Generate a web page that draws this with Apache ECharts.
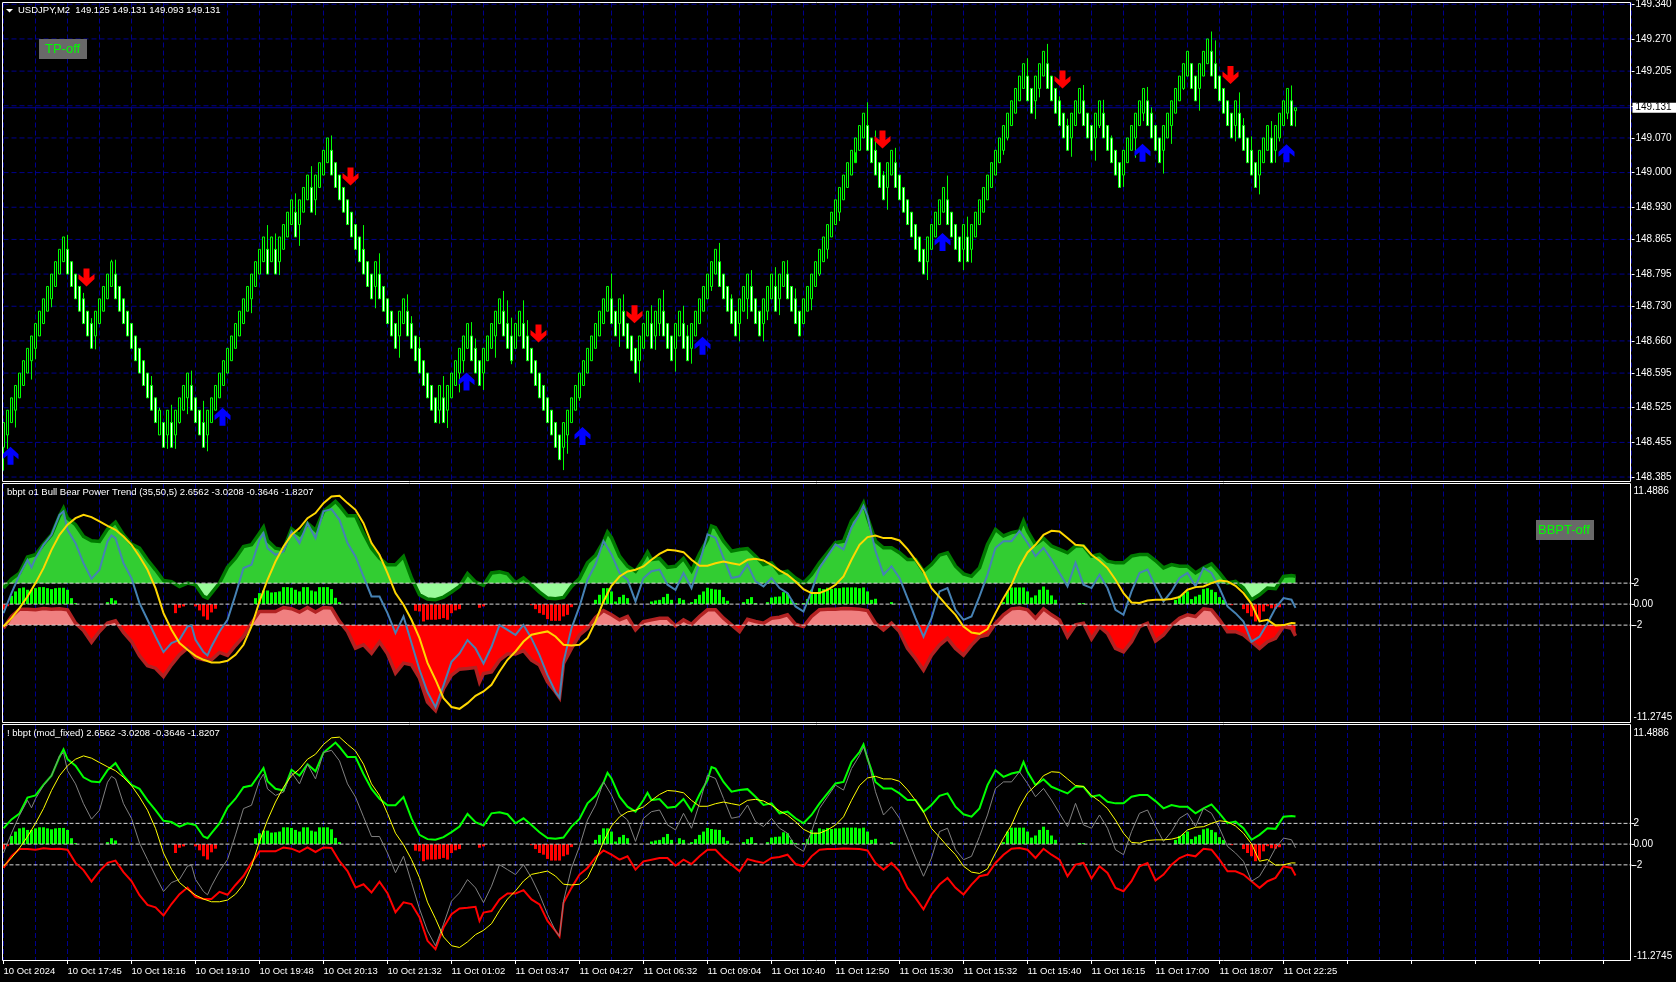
<!DOCTYPE html>
<html><head><meta charset="utf-8"><style>html,body{margin:0;padding:0;background:#000}#c{width:1676px;height:982px}</style>
<script src="https://cdn.jsdelivr.net/npm/echarts@6/dist/echarts.min.js"></script></head><body><div id="c"></div>
<script>
const timeLabels=['10 Oct 2024','10 Oct 17:45','10 Oct 18:16','10 Oct 19:10','10 Oct 19:48','10 Oct 20:13','10 Oct 21:32','11 Oct 01:02','11 Oct 03:47','11 Oct 04:27','11 Oct 06:32','11 Oct 09:04','11 Oct 10:40','11 Oct 12:50','11 Oct 15:30','11 Oct 15:32','11 Oct 15:40','11 Oct 16:15','11 Oct 17:00','11 Oct 18:07','11 Oct 22:25'];
const priceTicks=[149.34,149.27,149.205,149.135,149.07,149,148.93,148.865,148.795,148.73,148.66,148.595,148.525,148.455,148.385];
const lastPrice=149.131;
const opens=[
148.445,148.47,148.495,148.52,148.545,148.57,148.595,148.62,148.645,148.67,148.695,148.72,148.745,148.77,148.795,148.82,
148.845,148.82,148.795,148.77,148.745,148.72,148.695,148.67,148.695,148.72,148.745,148.77,148.795,148.77,148.745,148.72,
148.695,148.67,148.645,148.62,148.595,148.57,148.545,148.47,148.495,148.47,148.495,148.47,148.495,148.52,148.545,148.57,
148.545,148.52,148.495,148.47,148.495,148.52,148.545,148.57,148.595,148.62,148.645,148.67,148.695,148.72,148.745,148.77,
148.795,148.82,148.845,148.82,148.845,148.82,148.845,148.87,148.895,148.92,148.895,148.92,148.945,148.97,148.945,148.97,
148.995,149.02,149.045,149.02,148.995,148.97,148.945,148.92,148.895,148.87,148.845,148.82,148.795,148.77,148.795,148.77,
148.745,148.72,148.695,148.67,148.695,148.72,148.695,148.67,148.645,148.62,148.595,148.57,148.545,148.52,148.545,148.52,
148.545,148.57,148.595,148.62,148.645,148.67,148.645,148.62,148.595,148.62,148.645,148.67,148.695,148.72,148.695,148.67,
148.645,148.67,148.695,148.67,148.645,148.62,148.595,148.57,148.545,148.52,148.495,148.47,148.445,148.47,148.495,148.52,
148.545,148.57,148.595,148.62,148.645,148.67,148.695,148.72,148.745,148.72,148.695,148.72,148.695,148.67,148.645,148.62,
148.645,148.67,148.695,148.67,148.695,148.72,148.695,148.67,148.645,148.67,148.695,148.67,148.645,148.67,148.695,148.72,
148.745,148.77,148.795,148.82,148.795,148.77,148.745,148.72,148.695,148.72,148.745,148.77,148.745,148.72,148.695,148.72,
148.745,148.77,148.745,148.77,148.795,148.77,148.745,148.72,148.695,148.72,148.745,148.77,148.795,148.82,148.845,148.87,
148.895,148.92,148.945,148.97,148.995,149.02,149.045,149.07,149.095,149.07,149.045,149.02,148.995,148.97,148.995,149.02,
148.995,148.97,148.945,148.92,148.895,148.87,148.845,148.82,148.845,148.87,148.895,148.92,148.945,148.92,148.895,148.87,
148.845,148.87,148.845,148.87,148.895,148.92,148.945,148.97,148.995,149.02,149.045,149.07,149.095,149.12,149.145,149.17,
149.195,149.17,149.145,149.17,149.195,149.22,149.195,149.17,149.145,149.12,149.095,149.07,149.095,149.12,149.145,149.12,
149.095,149.07,149.095,149.12,149.095,149.07,149.045,149.02,148.995,149.02,149.045,149.07,149.095,149.12,149.145,149.12,
149.095,149.07,149.045,149.07,149.095,149.12,149.145,149.17,149.195,149.22,149.195,149.17,149.195,149.22,149.245,149.22,
149.195,149.17,149.145,149.12,149.095,149.12,149.095,149.07,149.045,149.02,148.995,149.02,149.045,149.07,149.045,149.07,
149.095,149.12,149.145,149.125];
const closes=[
148.495,148.52,148.545,148.57,148.595,148.62,148.645,148.67,148.695,148.72,148.745,148.77,148.795,148.82,148.845,148.87,
148.795,148.77,148.745,148.72,148.695,148.67,148.645,148.72,148.745,148.77,148.795,148.82,148.745,148.72,148.695,148.67,
148.645,148.62,148.595,148.57,148.545,148.52,148.495,148.52,148.445,148.52,148.445,148.52,148.545,148.57,148.595,148.52,
148.495,148.47,148.445,148.52,148.545,148.57,148.595,148.62,148.645,148.67,148.695,148.72,148.745,148.77,148.795,148.82,
148.845,148.87,148.795,148.87,148.795,148.87,148.895,148.92,148.945,148.87,148.945,148.97,148.995,148.92,148.995,149.02,
149.045,149.07,148.995,148.97,148.945,148.92,148.895,148.87,148.845,148.82,148.795,148.77,148.745,148.82,148.745,148.72,
148.695,148.67,148.645,148.72,148.745,148.67,148.645,148.62,148.595,148.57,148.545,148.52,148.495,148.57,148.495,148.57,
148.595,148.62,148.645,148.67,148.695,148.62,148.595,148.57,148.645,148.67,148.695,148.72,148.745,148.67,148.645,148.62,
148.695,148.72,148.645,148.62,148.595,148.57,148.545,148.52,148.495,148.47,148.445,148.42,148.495,148.52,148.545,148.57,
148.595,148.62,148.645,148.67,148.695,148.72,148.745,148.77,148.695,148.67,148.745,148.67,148.645,148.62,148.595,148.67,
148.695,148.72,148.645,148.72,148.745,148.67,148.645,148.62,148.695,148.72,148.645,148.62,148.695,148.72,148.745,148.77,
148.795,148.82,148.845,148.77,148.745,148.72,148.695,148.67,148.745,148.77,148.795,148.72,148.695,148.67,148.745,148.77,
148.795,148.72,148.795,148.82,148.745,148.72,148.695,148.67,148.745,148.77,148.795,148.82,148.845,148.87,148.895,148.92,
148.945,148.97,148.995,149.02,149.045,149.07,149.095,149.12,149.045,149.02,148.995,148.97,148.945,149.02,149.045,148.97,
148.945,148.92,148.895,148.87,148.845,148.82,148.795,148.87,148.895,148.92,148.945,148.97,148.895,148.87,148.845,148.82,
148.895,148.82,148.895,148.92,148.945,148.97,148.995,149.02,149.045,149.07,149.095,149.12,149.145,149.17,149.195,149.22,
149.145,149.12,149.195,149.22,149.245,149.17,149.145,149.12,149.095,149.07,149.045,149.12,149.145,149.17,149.095,149.07,
149.045,149.12,149.145,149.07,149.045,149.02,148.995,148.97,149.045,149.07,149.095,149.12,149.145,149.17,149.095,149.07,
149.045,149.02,149.095,149.12,149.145,149.17,149.195,149.22,149.245,149.17,149.145,149.22,149.245,149.27,149.195,149.17,
149.145,149.12,149.095,149.07,149.145,149.07,149.045,149.02,148.995,148.97,149.045,149.07,149.095,149.02,149.095,149.12,
149.145,149.17,149.095,149.131];
const upperWicks=[[16,148.874],[20,148.757],[22,148.706],[27,148.824],[28,148.824],[37,148.589],[39,148.525],[42,148.531],[47,148.6],[50,148.539],[66,148.894],[68,148.877],[73,148.958],[77,149.013],[82,149.075],[90,148.894],[94,148.837],[101,148.754],[102,148.71],[104,148.668],[110,148.589],[117,148.698],[118,148.665],[125,148.761],[126,148.742],[127,148.707],[130,148.742],[131,148.702],[152,148.796],[155,148.754],[162,148.732],[165,148.763],[170,148.731],[171,148.692],[179,148.858],[182,148.754],[187,148.803],[193,148.809],[196,148.823],[198,148.766],[216,149.142],[218,149.085],[220,149.003],[223,149.05],[236,148.994],[241,148.911],[256,149.231],[261,149.26],[264,149.154],[266,149.109],[270,149.177],[275,149.147],[277,149.075],[286,149.173],[287,149.132],[302,149.285],[303,149.267],[309,149.162],[310,149.11],[312,149.073],[317,149.104],[322,149.176]];
const lowerWicks=[[0,148.398],[1,148.442],[3,148.485],[7,148.582],[8,148.623],[12,148.728],[23,148.643],[41,148.442],[43,148.442],[44,148.493],[46,148.512],[51,148.437],[62,148.716],[69,148.793],[74,148.852],[78,148.914],[93,148.726],[99,148.626],[109,148.493],[111,148.484],[114,148.556],[115,148.596],[120,148.561],[123,148.626],[127,148.613],[140,148.399],[141,148.432],[144,148.539],[154,148.648],[159,148.576],[163,148.642],[164,148.67],[168,148.598],[172,148.614],[177,148.761],[184,148.659],[186,148.704],[190,148.659],[191,148.702],[194,148.712],[202,148.722],[204,148.791],[206,148.826],[209,148.902],[213,149.041],[221,148.925],[231,148.783],[240,148.803],[242,148.818],[250,149.036],[251,149.065],[258,149.108],[259,149.152],[267,149.032],[273,149.024],[274,149.09],[280,148.971],[283,149.03],[285,149.104],[290,148.998],[292,149.058],[295,149.167],[299,149.125],[308,149.063],[314,148.956],[318,149.02],[319,149.063],[321,149.108],[323,149.093]];
const buyArrows=[[2,148.428],[55,148.507],[116,148.578],[145,148.468],[175,148.65],[235,148.86],[285,149.04],[321,149.039]];
const sellArrows=[[21,148.788],[87,148.992],[134,148.675],[158,148.714],[220,149.067],[265,149.188],[307,149.197]];
const histogram=[-.5,-.2,.79,1.21,1.52,1.59,1.37,1.37,1.52,1.62,1.62,1.52,1.43,1.52,1.56,1.56,1.37,.57,.1,0,0,0,0,0,0,0,.19,.57,.35,0,0,0,
0,0,0,0,0,0,0,0,0,0,0,-.86,-.35,-.22,0,0,-.22,-.6,-1.17,-1.49,-.79,-.44,0,0,0,0,0,0,0,0,0,.57,
1.05,1.3,1.3,1.11,1.14,1.21,1.62,1.62,1.56,1.37,1.21,1.62,1.62,1.3,1.21,1.62,1.62,1.62,1.43,.6,.19,0,0,0,0,0,0,0,0,0,0,0,
0,0,0,0,0,0,0,-.63,-.7,-1.65,-1.49,-1.49,-1.49,-1.43,-1.33,-1.49,-.86,-.6,-.48,0,0,0,0,-.35,-.22,0,0,0,0,0,0,0,
0,0,0,0,-.1,-.48,-.86,-1.02,-1.43,-1.59,-1.59,-1.59,-1.17,-1.02,-.29,0,0,0,0,0,.41,.89,1.52,1.52,1.21,.25,.67,.89,.57,0,0,0,
0,0,.25,.35,.41,.67,.98,.41,0,.57,.41,.03,.19,.48,.89,1.21,1.56,1.46,1.4,1.37,.67,.32,0,0,0,.19,.48,.67,.1,0,0,.19,
.63,.7,.73,1.14,1.05,.41,.1,0,.1,.48,1.37,1.11,1.52,1.43,1.56,1.46,1.52,1.52,1.59,1.59,1.59,1.59,1.52,1.59,1.21,.41,.51,0,0,0,.19,.03,
0,0,0,0,0,0,0,0,0,0,0,0,0,0,0,0,0,0,0,0,0,0,0,0,0,0,.19,1.21,1.59,1.59,1.59,1.59,
1.21,.63,.83,1.37,1.68,1.37,.83,.41,0,0,0,0,0,.1,.1,0,0,0,0,0,0,0,0,0,0,0,0,0,0,0,0,0,
0,0,0,0,0,.41,.79,.98,1.21,.48,.73,.89,1.43,1.52,1.37,1.14,.67,.41,0,-.1,0,0,-.48,-.86,-1.17,-1.65,-1.49,-.7,-.2,-.4,-.45,-.3,
0,0,0,0];
const bull=[1.52,2.38,2.95,4.48,4.7,5.71,6.6,8.41,8.19,7.56,6.44,6.03,5.97,7.14,7.81,6.6,5.71,5.33,4.22,3.27,2.25,2.13,1.68,2,1.84,.73,1.05,2,3.52,4.38,5.49,5.65,6.76,6.06,5.33,5.17,7.17,6.6,7.71,7.02,8.83,9.46,9.37,8.41,8.41,6.76,5.33,4.38,3.75,3.75,4.54,2.48,.89,
.48,.42,.67,1.15,1.69,2.91,2.11,1.79,2.97,3.07,2.88,2.01,2.49,1.85,1.15,.58,.51,.64,1.69,2.43,3.93,4.66,5.94,6.33,4.57,3.61,3.13,4.25,4.25,4.35,3.51,3.61,4.35,3.19,4.79,6.17,7.28,6,5.05,5.21,5.3,4.57,3.77,3.93,2.97,3.13,2.49,2.01,2.81,3.93,4.89,5.85,6,7.92,8.88,8.24,6,5.37,5.37,4.89,4.25,4.25,3.13,3.77,4.66,4.89,3.61,2.88,2.65,3.45,5.69,7.12,6.49,6.81,6.97,6.97,5.69,6.26,5.53,5.21,4.89,5.53,5.53,4.57,4.73,4.09,3.93,3.93,4.57,4.73,4.73,4.15,3.45,3.77,3.61,3.61,2.97,3.45,3.83,2.97,2.01,2.17,1.53,.42,.89,1.53,1.47,2.65,2.72];
const bullPeaks=[[15,9.14],[51,.57],[65,7.33],[83,9.79],[151,6.87],[161,4.95],[177,7.44],[215,9.62],[255,7.92],[323,2.66]];
const bear=[-2.29,-1.17,-.48,-.48,-.54,-.41,-.48,-.44,-.54,-1.81,-2.51,-3.62,-2.6,-1.81,-1.59,-2.7,-3.56,-4.92,-5.87,-6.1,-6.89,-5.78,-4.83,-4.19,-5.08,-5.3,-5.3,-4.6,-4.89,-3.94,-3.08,-1.81,-.7,-.7,-.7,-.32,-.44,-.76,-.32,-.76,-.32,-.38,-1.65,-2.6,-4.19,-3.87,-4.67,-3.62,-4.73,-6.57,-5.62,-5.78,-7.05,
-9.33,-10.13,-8.05,-6.77,-6.2,-6.13,-6.04,-6.61,-6.45,-5.34,-4.76,-4.76,-4.44,-5.34,-5.81,-7.41,-8.37,-5.65,-4.22,-2.94,-2.3,-1.28,-.61,-1.02,-1.5,-1.18,-2.46,-1.66,-1.5,-1.34,-1.34,-2.08,-1.5,-1.92,-1.18,-.54,-.54,-1.34,-1.98,-2.62,-1.44,-1.66,-1.82,-1.34,-1.25,-1.02,-1.92,-2.14,-1.18,-.54,-.48,-.48,-.42,-.45,-.48,-.61,-1.82,-2.46,-1.82,-2.62,-4.22,-5.18,-6.29,-4.86,-3.9,-3.26,-4.22,-4.86,-3.9,-3.1,-2.94,-1.82,-1.02,-.45,-.38,-.54,-1.34,-.45,-1.02,-1.5,-3.1,-1.98,-1.82,-3.32,-2.14,-2.78,-4.22,-4.54,-3.58,-2.14,-1.82,-3.51,-2.94,-1.98,-1.34,-1.02,-1.18,-.45,-.54,-1.5,-2.62,-2.62,-2.94,-3.58,-4.22,-3.58,-3.26,-2.14,-2.3];
const bearPeaks=[[119,-7.41],[139,-8.91],[323,-3.02]];
const power=[-.86,1.05,2.79,4.22,4.38,5.65,6.6,8.51,7.08,5.81,3.9,2.41,3.27,5.97,6.29,3.9,2.48,.1,-1.49,-3.08,-4.57,-3.71,-3.4,-2.13,-3.4,-4.57,-4.03,-2.6,-1.49,.89,3.43,3.75,6.13,5.33,4.7,5.02,6.92,5.81,7.71,6.29,8.83,9.05,8.03,5.81,4.54,2.63,.73,.73,-.86,-2.76,-1.17,-3.71,-6.25,
-8.37,-9.81,-7.73,-5.5,-4.7,-3.42,-4.22,-5.65,-4.06,-1.98,-2.46,-2.94,-1.98,-3.26,-4.86,-6.77,-8.37,-5.5,-2.3,-.22,2.33,3.77,6.01,4.73,2.97,2.33,.26,2.49,3.13,3.29,1.85,1.37,2.97,1.53,3.93,6.65,6.33,4.41,2.49,2.65,3.77,2.17,1.69,2.49,1.53,1.05,-.22,-.7,1.21,3.45,4.57,5.69,5.21,7.28,8.56,8.4,5.05,2.81,3.61,2.49,.58,-1.34,-3.1,-1.34,1.21,1.53,-.54,-1.5,-1.18,.73,2.81,5.37,6,6,6.97,5.85,4.57,5.37,4.25,2.97,1.69,3.93,1.85,1.53,2.81,1.53,-.54,-1.02,1.21,2.97,3.29,1.69,.26,1.21,2.49,2.97,1.69,3.45,2.97,1.53,-.22,-.86,-1.66,-3.58,-3.1,-1.82,-.38,.58,.42];
const powerPeaks=[[7,3.5],[15,8.83],[27,6.54],[47,-2.03],[51,-4.89],[65,6.76],[139,-8.9],[215,9.36],[323,-.36]];
const signal=[-2.13,-1.33,-.38,.73,2,3.43,5.17,6.6,7.56,8.19,8.51,8.29,7.87,7.46,7.08,6.44,5.65,4.54,3.27,1.52,-.86,-2.44,-3.71,-4.35,-4.92,-5.3,-5.56,-5.56,-5.4,-4.83,-3.87,-2.13,.25,2.32,4.06,5.49,6.6,7.24,8.19,8.67,9.62,10.25,10.32,9.62,8.98,7.71,5.81,4.7,2.95,1.05,-.06,-1.49,-3.24,
-5.6,-7.2,-8.95,-9.8,-9.97,-9.43,-8.73,-8.32,-7.68,-6.41,-5.3,-4.51,-3.56,-2.92,-2.76,-2.6,-3.08,-3.87,-3.94,-3.87,-3.24,-1.65,.25,1.75,2.63,3.11,3.27,3.59,4.22,4.79,5.17,5.11,4.95,4.22,3.65,3.65,3.9,4.06,3.9,3.75,4.22,4.32,4.16,3.75,3.21,2.79,2.16,1.43,1.05,1.05,1.37,1.84,
2.63,4.22,5.65,6.38,6.54,6.29,6.29,6.06,5.24,4.22,3.11,1.52,.67,-.22,-1.02,-2.13,-2.7,-2.83,-2.38,-.86,.57,1.84,3.59,4.92,5.65,6.6,6.98,6.92,6.29,5.65,5.56,4.7,4.13,3.43,2.32,1.05,.16,.1,.35,.41,.41,.48,.67,1.37,1.62,1.68,2,2.25,2.16,1.75,1.05,.03,-1.65,-1.49,-2.03,-2,-1.81];
const levels=[2,0,-2];
const scaleLabels={'2':'2','0':'0.00','-2':'-2','-11.2745':'-11.2745'};

const N=408, barStep=2;
const categories=Array.from({length:N},(_,i)=>i%16===0&&timeLabels[i/16]?timeLabels[i/16]:'');
const FONT='Liberation Sans';
const GRID='#00008e', WHITE='#fff';
const P=[{top:2.5,h:479},{top:483.5,h:239},{top:725,h:236}];
const IMIN=-11.2745,IMAX=11.4886;
const wh=Object.fromEntries(upperWicks), wl=Object.fromEntries(lowerWicks);
const candles=opens.map((o,i)=>[i,o,closes[i],wl[i]!==undefined?wl[i]:Math.min(o,closes[i]),wh[i]!==undefined?wh[i]:Math.max(o,closes[i])]);
const sampled=(vals,extra)=>vals.map((v,k)=>[k*barStep,v]).concat(extra).sort((a,b)=>a[0]-b[0]);
const bullLine=sampled(bull,bullPeaks),bearLine=sampled(bear,bearPeaks),powerLine=sampled(power,powerPeaks),signalLine=sampled(signal,[[323,-1.82]]);
const levelY=(p,v)=>P[p].top+(IMAX-v)/(IMAX-IMIN)*P[p].h;
const split=(y,a,b)=>({type:'linear',x:0,y:y,x2:0,y2:y+.5,global:true,colorStops:[{offset:0,color:a},{offset:1,color:b}]});
const line=(name,data,g,color,w,z,extra)=>Object.assign({name,type:'line',xAxisIndex:g,yAxisIndex:g,data,showSymbol:false,symbol:'none',smooth:false,z,lineStyle:{color,width:w,join:'miter'}},extra||{});
const hist=g=>({name:'histogram',type:'bar',xAxisIndex:g,yAxisIndex:g,barWidth:3,z:3,data:histogram,itemStyle:{color:p=>p.value>=0?'#00ff00':'#ff0000'}});
const levelSeg=v=>[[0,v],[N-1,v],[0,null]];
const levelLines=g=>({name:'levels',type:'line',xAxisIndex:g,yAxisIndex:g,data:levels.flatMap(levelSeg),z:4,showSymbol:false,symbol:'none',connectNulls:false,lineStyle:{color:'#d8d8d8',type:[4,2],width:1}});

const yIndicator=()=>({type:'value',position:'right',min:IMIN,max:IMAX,scale:false,splitLine:{show:false},axisLine:{show:false,onZero:false},
  axisTick:{show:true,customValues:[-2,0,2],length:3,lineStyle:{color:WHITE}},
  axisLabel:{customValues:[-11.2745,-2,0,2,11.4886],color:WHITE,fontFamily:FONT,fontSize:10,margin:2,align:'left',verticalAlignMinLabel:'bottom',verticalAlignMaxLabel:'top',
    formatter:v=>v===IMAX?'{top|11.4886}':scaleLabels[String(v)],rich:{top:{color:WHITE,fontFamily:FONT,fontSize:10,padding:[3,0,0,0]}}}});
const xBase=(i,showLabels)=>({type:'category',gridIndex:i,data:categories,boundaryGap:false,min:0,max:N-1,
  axisLine:{show:false,onZero:false},axisTick:showLabels?{show:true,interval:15,length:3,lineStyle:{color:WHITE}}:{show:false},
  axisLabel:showLabels?{show:true,interval:15,color:WHITE,fontFamily:FONT,fontSize:9.5,margin:5,align:'left',hideOverlap:false}:{show:false},
  splitLine:{show:true,interval:7,lineStyle:{color:GRID,type:[5,3],width:1}}});
const xPrice={type:'value',gridIndex:0,min:0,max:N-1,interval:8,axisLine:{show:false,onZero:false},axisTick:{show:false},axisLabel:{show:false},
  splitLine:{show:true,lineStyle:{color:GRID,type:[5,3],width:1}}};

const option={animation:false,backgroundColor:'#000',
 grid:P.map(p=>({left:3.5,width:1628,top:p.top,height:p.h,containLabel:false,outerBoundsMode:'none'})),
 xAxis:[xPrice,xBase(1,false),xBase(2,true)],
 yAxis:[{type:'value',gridIndex:0,position:'right',min:148.376,max:149.3436,scale:false,splitLine:{show:false},axisLine:{show:false,onZero:false},
   axisTick:{show:true,customValues:priceTicks,length:3,lineStyle:{color:WHITE}},
   axisLabel:{customValues:priceTicks.filter(v=>v!==149.135).concat(lastPrice).sort((a,b)=>a-b),color:WHITE,fontFamily:FONT,fontSize:10,margin:1,align:'left',
     formatter:v=>v===lastPrice?'{tag|'+v.toFixed(3)+'}':'{n|'+v.toFixed(3)+'}',
     rich:{n:{color:WHITE,fontFamily:FONT,fontSize:10,padding:[0,0,0,3]},tag:{color:'#000',backgroundColor:'#fff',fontFamily:FONT,fontSize:10,padding:[0,5,0,3],height:10,lineHeight:10}}}},
   Object.assign(yIndicator(),{gridIndex:1}),Object.assign(yIndicator(),{gridIndex:2})],
 series:[
  {name:'priceGrid',type:'line',xAxisIndex:0,yAxisIndex:0,data:priceTicks.flatMap(levelSeg),z:1,showSymbol:false,symbol:'none',connectNulls:false,lineStyle:{color:GRID,type:[5,3],width:1}},
  {name:'lastPrice',type:'line',xAxisIndex:0,yAxisIndex:0,data:levelSeg(lastPrice),z:1,showSymbol:false,symbol:'none',lineStyle:{color:'#000090',width:1}},
  {name:'USDJPY',type:'candlestick',xAxisIndex:0,yAxisIndex:0,data:candles,z:2,barWidth:2,itemStyle:{color:'#000',color0:'#fff',borderColor:'#00ff00',borderColor0:'#00ff00',borderWidth:1}},
  {name:'buy',type:'scatter',xAxisIndex:0,yAxisIndex:0,data:buyArrows,z:5,symbol:'path://M8 0L16 7.5L16 12.5L11 8.5L11 18L5 18L5 8.5L0 12.5L0 7.5Z',symbolSize:[16,18],symbolKeepAspect:false,symbolOffset:[-1,0],itemStyle:{color:'#0000ff',opacity:1}},
  {name:'sell',type:'scatter',xAxisIndex:0,yAxisIndex:0,data:sellArrows,z:5,symbol:'path://M8 18L16 10.5L16 5.5L11 9.5L11 0L5 0L5 9.5L0 5.5L0 10.5Z',symbolSize:[16,18],symbolKeepAspect:false,symbolOffset:[-1,0],itemStyle:{color:'#ff0000',opacity:1}},

  line('bull',bullLine,1,'#007a00',3.5,2,{areaStyle:{origin:2,opacity:1,color:split(levelY(1,2),'#32cd32','#98fb98')}}),
  line('bear',bearLine,1,'#b22222',3.5,2,{areaStyle:{origin:-2,opacity:1,color:split(levelY(1,-2),'#f08080','#ff0000')}}),
  hist(1),levelLines(1),
  line('power',powerLine,1,'#4682b4',2,6),
  line('signal',signalLine,1,'#ffd700',2,7),

  hist(2),levelLines(2),
  line('bull2',bullLine,2,'#00ff00',2,5),
  line('bear2',bearLine,2,'#ff0000',2,5),
  line('power2',powerLine,2,'#808080',1,6),
  line('signal2',signalLine,2,'#ffff00',1,7)
 ],
 graphic:[
  ...[[2.5,2.5,1628,479],[2.5,483.5,1628,239],[2.5,724.5,1628,236]].map(r=>({type:'rect',silent:true,z:50,shape:{x:r[0],y:r[1],width:r[2],height:r[3]},style:{fill:'none',stroke:'#fff',lineWidth:1}})),
  {type:'polygon',silent:true,z:51,shape:{points:[[6,9],[13,9],[9.5,12.5]]},style:{fill:'#fff'}},
  {type:'text',silent:true,z:51,style:{x:18,y:10.5,verticalAlign:'middle',text:'USDJPY,M2  149.125 149.131 149.093 149.131',fill:'#fff',font:'9.5px "Liberation Sans"'}},
  {type:'text',silent:true,z:51,style:{x:7,y:492.5,verticalAlign:'middle',text:'bbpt o1 Bull Bear Power Trend (35,50,5) 2.6562 -3.0208 -0.3646 -1.8207',fill:'#fff',font:'9.5px "Liberation Sans"'}},
  {type:'text',silent:true,z:51,style:{x:7,y:733.5,verticalAlign:'middle',text:'! bbpt (mod_fixed) 2.6562 -3.0208 -0.3646 -1.8207',fill:'#fff',font:'9.5px "Liberation Sans"'}},
  {type:'rect',silent:true,z:51,shape:{x:39,y:39,width:48,height:20},style:{fill:'#696969'}},
  {type:'text',silent:true,z:52,style:{x:45,y:49,verticalAlign:'middle',text:'TP-off',fill:'#00ff00',font:'13px "Liberation Sans"'}},
  {type:'rect',silent:true,z:51,shape:{x:1536,y:520,width:58,height:20},style:{fill:'#696969'}},
  {type:'text',silent:true,z:52,style:{x:1538,y:530,verticalAlign:'middle',text:'BBPT-off',fill:'#00ff00',font:'13px "Liberation Sans"'}}
 ]};
const chart=echarts.init(document.getElementById('c'),null,{renderer:'canvas',width:1676,height:982});
chart.setOption(option);
</script></body></html>
